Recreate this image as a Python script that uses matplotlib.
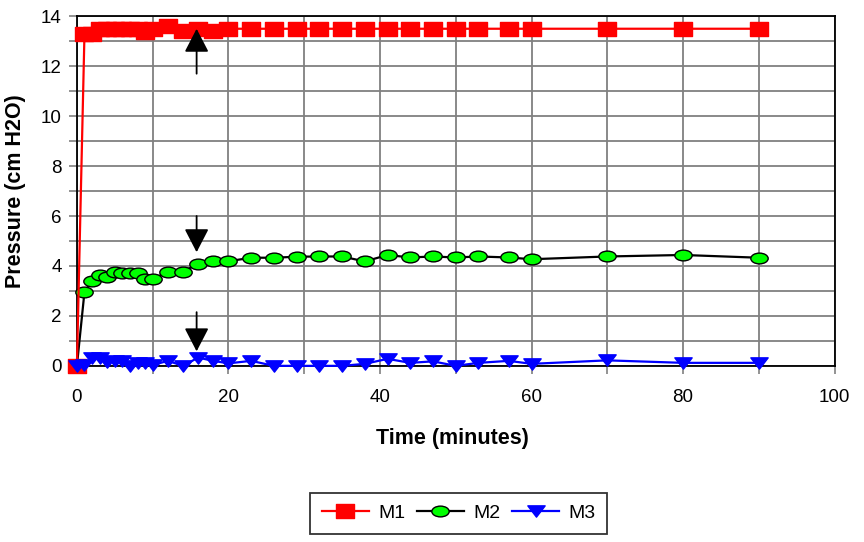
import matplotlib
matplotlib.use("Agg")
import matplotlib.pyplot as plt
from matplotlib.path import Path
from matplotlib.transforms import Affine2D
from matplotlib.ticker import MultipleLocator

plt.rcParams['font.family'] = ['Liberation Sans', 'DejaVu Sans']

time_min = [0, 1, 2, 3, 4, 5, 6, 7, 8, 9, 10, 12, 14, 16, 18, 20, 23, 26, 29,
            32, 35, 38, 41, 44, 47, 50, 53, 57, 60, 70, 80, 90]
m1 = [0, 13.3, 13.3, 13.5, 13.5, 13.5, 13.5, 13.5, 13.5, 13.35, 13.5, 13.6, 13.4,
      13.5, 13.4, 13.5, 13.5, 13.5, 13.5, 13.5, 13.5, 13.5, 13.5, 13.5, 13.5,
      13.5, 13.5, 13.5, 13.5, 13.5, 13.5, 13.5]
m2 = [0, 2.96, 3.4, 3.63, 3.57, 3.76, 3.73, 3.73, 3.7, 3.49, 3.47, 3.77, 3.77,
      4.09, 4.19, 4.19, 4.33, 4.33, 4.37, 4.38, 4.38, 4.18, 4.44, 4.34, 4.38,
      4.34, 4.38, 4.34, 4.27, 4.38, 4.44, 4.33]
m3 = [0, 0.02, 0.3, 0.3, 0.15, 0.2, 0.2, 0.0, 0.1, 0.1, 0.03, 0.2, 0.0, 0.33,
      0.2, 0.1, 0.2, 0.0, 0.0, 0.0, 0.0, 0.08, 0.28, 0.12, 0.18, 0.0, 0.12,
      0.2, 0.08, 0.22, 0.12, 0.12]
series_names = ['M1', 'M2', 'M3']
# arrows: (x, y_tail, y_tip)
arrows = [(15.8, 11.7, 13.5), (15.8, 6.0, 4.55), (15.8, 2.15, 0.58)]

# custom markers
rect = Path([(-1, -0.7), (1, -0.7), (1, 0.7), (-1, 0.7), (-1, -0.7)],
            [Path.MOVETO, Path.LINETO, Path.LINETO, Path.LINETO, Path.CLOSEPOLY])
ellipse = Path.unit_circle().transformed(Affine2D().scale(1.0, 0.62))
tri = Path([(-1, 0.65), (1, 0.65), (0, -0.65), (-1, 0.65)],
           [Path.MOVETO, Path.LINETO, Path.LINETO, Path.CLOSEPOLY])

fig = plt.figure(figsize=(8.64, 5.42), dpi=100)
ax = fig.add_axes([0.089, 0.325, 0.877, 0.645])

l1, = ax.plot(time_min, m1, color='#ff0000', lw=1.6, marker=rect, ms=13.5,
              mfc='#ff0000', mec='#ff0000', clip_on=False, zorder=5)
l2, = ax.plot(time_min, m2, color='black', lw=1.6, marker=ellipse, ms=12.5,
              mfc='#00ff00', mec='black', mew=1.0, clip_on=False, zorder=4)
l3, = ax.plot(time_min, m3, color='#0000ff', lw=1.6, marker=tri, ms=12.5,
              mfc='#0000ff', mec='#0000ff', clip_on=False, zorder=6)

for x, y0, y1 in arrows:
    ax.annotate('', xy=(x, y1), xytext=(x, y0),
                arrowprops=dict(arrowstyle='-|>,head_length=1.45,head_width=0.75',
                                color='black', lw=1.3, shrinkA=0, shrinkB=0),
                zorder=7)

ax.set_xlim(0, 100)
ax.set_ylim(0, 14)
ax.xaxis.set_major_locator(MultipleLocator(20))
ax.xaxis.set_minor_locator(MultipleLocator(10))
ax.yaxis.set_major_locator(MultipleLocator(2))
ax.yaxis.set_minor_locator(MultipleLocator(1))
ax.grid(True, which='both', color='#808080', lw=1.3)
ax.set_axisbelow(True)
ax.tick_params(which='both', direction='out', length=6, color='#808080', width=1.2,
               labelsize=13.5)
ax.tick_params(axis='x', which='both', pad=11)
ax.tick_params(axis='y', which='both', pad=5)
for s in ax.spines.values():
    s.set_color('black')
    s.set_linewidth(1.3)

ax.set_xlabel('Time (minutes)', fontsize=15.5, fontweight='bold')
ax.set_ylabel('Pressure (cm H2O)', fontsize=15.5, fontweight='bold')
ax.xaxis.set_label_coords(0.496, -0.177)
ax.yaxis.set_label_coords(-0.067, 0.5)

leg = fig.legend([l1, l2, l3], series_names, loc='center', bbox_to_anchor=(0.531, 0.053),
                 ncol=3, frameon=True, fancybox=False, edgecolor='black', fontsize=14,
                 handlelength=2.4, columnspacing=0.6, handletextpad=0.5,
                 borderpad=0.6)
leg.get_frame().set_linewidth(1.3)

fig.savefig('out.png', dpi=100)
